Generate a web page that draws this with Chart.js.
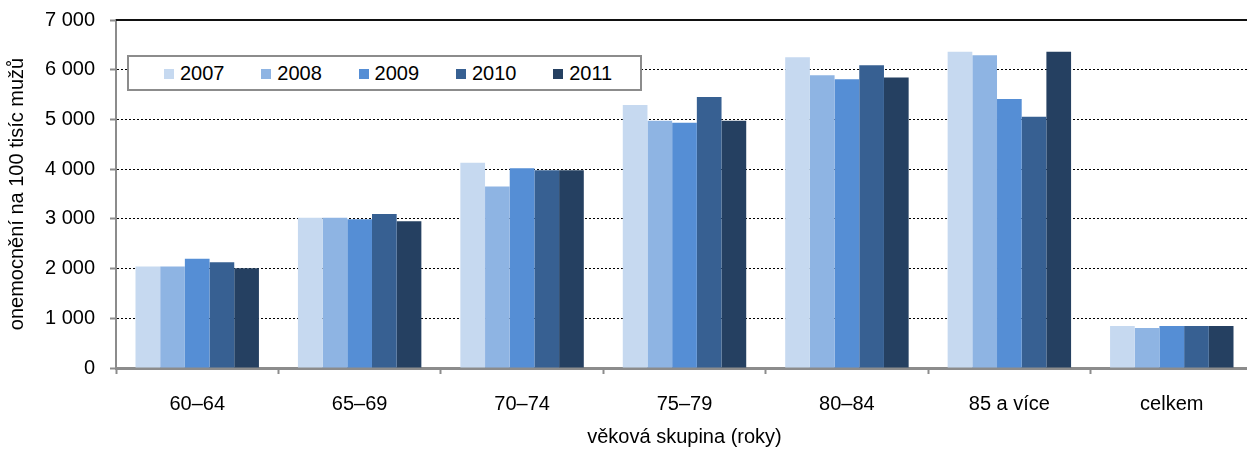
<!DOCTYPE html>
<html>
<head>
<meta charset="utf-8">
<script src="https://cdn.jsdelivr.net/npm/chart.js@4/dist/chart.umd.min.js"></script>
<style>
    html, body { margin: 0; padding: 0; background: #fff; overflow: hidden; }
    #wrap { position: relative; width: 1260px; height: 449px; }
    #legend {
        position: absolute; left: 127px; top: 55px; width: 511px; height: 32px;
        border: 2px solid #8c8c8c; background: #fff;
        font-family: "Liberation Sans", Arial, sans-serif; font-size: 20px; color: #000;
    }
    .item { position: absolute; top: 0; height: 32px; line-height: 32px; white-space: nowrap; }
    .swatch { position: absolute; left: 0; top: 12px; width: 10px; height: 10px; }
    .label { position: absolute; left: 16px; top: 0; }
</style>
</head>
<body>
<div id="wrap">
    <canvas id="chart" width="1260" height="449"></canvas>
    <div id="legend"></div>
</div>
<script>
// --- data ---
const categories = ['60–64', '65–69', '70–74', '75–79', '80–84', '85 a více', 'celkem'];
const years = ['2007', '2008', '2009', '2010', '2011'];

const values2007 = [2040, 3020, 4130, 5290, 6250, 6360, 845];
const values2008 = [2040, 3020, 3650, 4975, 5890, 6290, 805];
const values2009 = [2200, 2990, 4020, 4935, 5810, 5410, 845];
const values2010 = [2125, 3100, 3980, 5450, 6090, 5055, 845];
const values2011 = [2005, 2950, 3980, 4975, 5845, 6360, 845];

const yTickLabels = ['0', '1 000', '2 000', '3 000', '4 000', '5 000', '6 000', '7 000'];

const colors = ['#c6d9f0', '#8eb4e3', '#558ed5', '#376092', '#254061'];
const series = [values2007, values2008, values2009, values2010, values2011];

const FONT = '"Liberation Sans", Arial, sans-serif';

// solid black line at the top of the value axis
const topLine = {
    id: 'topLine',
    beforeDatasetsDraw(chart) {
        const { ctx, chartArea, scales } = chart;
        const y = scales.y.getPixelForValue(scales.y.max);
        ctx.save();
        ctx.strokeStyle = '#111';
        ctx.lineWidth = 2;
        ctx.beginPath();
        ctx.moveTo(chartArea.left, y);
        ctx.lineTo(chartArea.right, y);
        ctx.stroke();
        ctx.restore();
    }
};

new Chart(document.getElementById('chart'), {
    type: 'bar',
    data: {
        labels: categories,
        datasets: years.map((y, i) => ({
            label: y,
            data: series[i],
            backgroundColor: colors[i],
            borderWidth: 0,
            categoryPercentage: 0.76,
            barPercentage: 1.0
        }))
    },
    options: {
        responsive: false,
        animation: false,
        layout: { padding: { left: 0, right: 7, top: 20, bottom: 0 } },
        plugins: {
            legend: { display: false },
            tooltip: { enabled: false }
        },
        scales: {
            y: {
                min: 0,
                max: 7000,
                afterFit: (s) => { s.width = 116; s.paddingTop = 0; s.paddingBottom = 0; },
                ticks: {
                    stepSize: 1000,
                    color: '#000',
                    padding: 15,
                    font: { family: FONT, size: 20 },
                    callback: (v) => yTickLabels[Math.round(v / 1000)]
                },
                grid: {
                    color: (c) => (c.tick && (c.tick.value === 0 || c.tick.value === 7000)) ? 'rgba(0,0,0,0)' : '#000',
                    lineWidth: 1,
                    tickLength: 6,
                    tickColor: '#8c8c8c',
                    tickWidth: 2
                },
                border: { display: true, color: '#8c8c8c', width: 2, dash: [2, 2] },
                title: {
                    display: true,
                    text: 'onemocnění na 100 tisíc mužů',
                    color: '#000',
                    font: { family: FONT, size: 20 },
                    padding: { top: 5, bottom: 0 }
                }
            },
            x: {
                afterFit: (s) => { s.height = 81; s.paddingLeft = 0; s.paddingRight = 0; },
                ticks: {
                    color: '#000',
                    padding: 18,
                    font: { family: FONT, size: 20 }
                },
                grid: {
                    offset: true,
                    drawOnChartArea: false,
                    tickLength: 6,
                    tickColor: '#8c8c8c',
                    tickWidth: 2
                },
                border: { display: true, color: '#8c8c8c', width: 3 },
                title: {
                    display: true,
                    text: 'věková skupina (roky)',
                    color: '#000',
                    font: { family: FONT, size: 20 },
                    padding: { top: 0, bottom: 0 }
                }
            }
        }
    },
    plugins: [topLine]
});

// --- legend (HTML, floated over the plot like the original) ---
const legend = document.getElementById('legend');
years.forEach((y, i) => {
    const item = document.createElement('div');
    item.className = 'item';
    item.style.left = (35 + i * 97.3) + 'px';
    item.innerHTML = '<span class="swatch" style="background:' + colors[i] + '"></span><span class="label">' + y + '</span>';
    legend.appendChild(item);
});
</script>
</body>
</html>
